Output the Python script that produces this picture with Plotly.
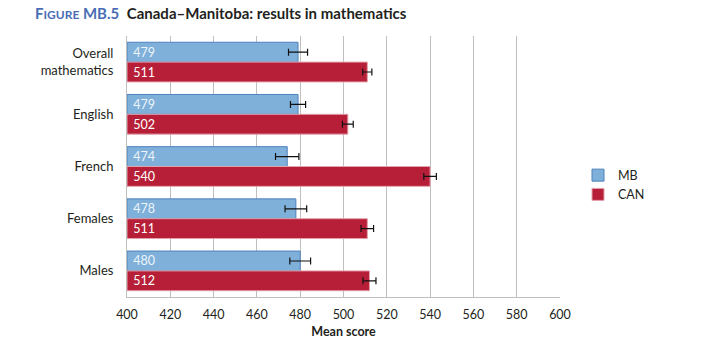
import plotly.graph_objects as go

categories = ["Overall<br>mathematics", "English", "French", "Females", "Males"]
mb_values = [479, 479, 474, 478, 480]
can_values = [511, 502, 540, 511, 512]
mb_errors = [4.4, 3.5, 5.4, 5.0, 4.8]
can_errors = [2.1, 2.5, 2.9, 2.9, 3.0]
x_ticks = [400, 420, 440, 460, 480, 500, 520, 540, 560, 580, 600]
axis_min = 400

FONT = "Lato, 'Noto Sans', sans-serif"

fig = go.Figure()
fig.add_trace(go.Bar(
    name="MB", y=categories, x=[v - axis_min for v in mb_values], base=axis_min, orientation="h",
    marker=dict(color="#7EB0D9", line=dict(color="#4F81BD", width=1)),
    text=["\u00a0" + str(v) for v in mb_values],
    textposition="inside", insidetextanchor="start", constraintext="none",
    textfont=dict(color="#EEF4FB", size=12.5, family=FONT),
    error_x=dict(type="data", array=mb_errors, color="#111111", thickness=1.2, width=3.5),
))
fig.add_trace(go.Bar(
    name="CAN", y=categories, x=[v - axis_min for v in can_values], base=axis_min, orientation="h",
    marker=dict(color="#B71F38", line=dict(color="#E2A3AD", width=1)),
    text=["\u00a0" + str(v) for v in can_values],
    textposition="inside", insidetextanchor="start", constraintext="none",
    textfont=dict(color="#FFFFFF", size=12.5, family=FONT),
    error_x=dict(type="data", array=can_errors, color="#111111", thickness=1.2, width=3.5),
))

fig.update_layout(
    width=709, height=350,
    margin=dict(l=127, r=149, t=36, b=53, autoexpand=False),
    paper_bgcolor="white", plot_bgcolor="white",
    barmode="group", bargap=0.24, bargroupgap=0,
    font=dict(family=FONT, size=12, color="#231F20"),
    title=dict(
        text="<b><span style='color:#4A6DB5'>F<span style='font-size:12px'>IGURE</span> MB.5</span>"
             "\u2002Canada\u2013Manitoba: results in mathematics</b>",
        x=35 / 709, xref="container", xanchor="left",
        y=1 - 14 / 350, yref="container", yanchor="middle",
        font=dict(size=15, family=FONT, color="#231F20"),
    ),
    xaxis=dict(
        range=[400, 600], tickvals=x_ticks, showgrid=True, gridcolor="#BFBFBF", gridwidth=1,
        showline=True, linecolor="#BFBFBF", linewidth=1, mirror=False,
        ticks="outside", ticklen=0, ticklabelstandoff=6,
        tickfont=dict(size=12.5, color="#231F20"),
        title=dict(text="<b>Mean score</b>", font=dict(size=12.5), standoff=6),
        zeroline=False,
    ),
    yaxis=dict(
        autorange="reversed", showline=True, linecolor="#BFBFBF", linewidth=1,
        tickfont=dict(size=13, color="#231F20"), ticks="outside", ticklen=10, tickcolor="white",
    ),
    legend=dict(
        x=578 / 709, xref="container", y=1 - 185 / 350, yref="container",
        xanchor="left", yanchor="middle", traceorder="normal",
        font=dict(size=12.5, color="#231F20"), itemwidth=30, tracegroupgap=4,
    ),
    showlegend=True,
)

fig.write_html("out.html")
